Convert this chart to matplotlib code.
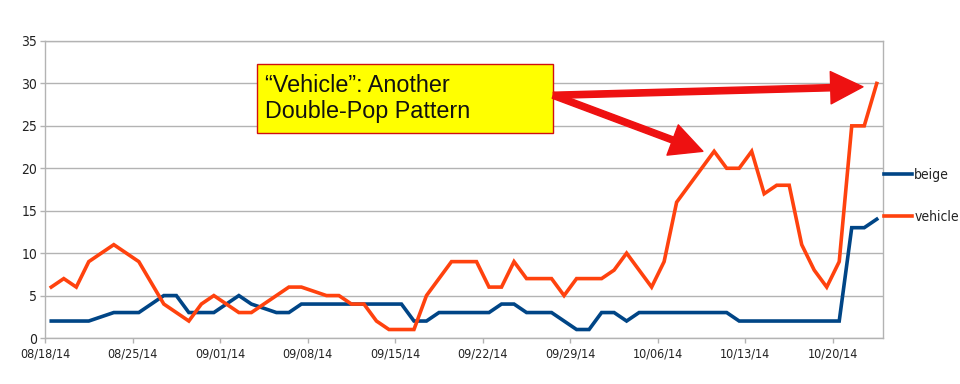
import matplotlib
matplotlib.use("Agg")
import matplotlib.pyplot as plt
import matplotlib.dates as mdates
from matplotlib.patches import Rectangle
import pandas as pd

# daily counts, 08/18/14 .. 10/23/14
start_date = "2014-08-18"
beige = [2, 2, 2, 2, 2.5, 3, 3, 3, 4, 5, 5, 3, 3, 3, 4, 5, 4, 3.5, 3, 3,
         4, 4, 4, 4, 4, 4, 4, 4, 4, 2, 2, 3, 3, 3, 3, 3, 4, 4, 3, 3,
         3, 2, 1, 1, 3, 3, 2, 3, 3, 3, 3, 3, 3, 3, 3, 2, 2, 2, 2, 2,
         2, 2, 2, 2, 13, 13, 14]
vehicle = [6, 7, 6, 9, 10, 11, 10, 9, 6.5, 4, 3, 2, 4, 5, 4, 3, 3, 4, 5, 6,
           6, 5.5, 5, 5, 4, 4, 2, 1, 1, 1, 5, 7, 9, 9, 9, 6, 6, 9, 7, 7,
           7, 5, 7, 7, 7, 8, 10, 8, 6, 9, 16, 18, 20, 22, 20, 20, 22, 17, 18, 18,
           11, 8, 6, 9, 25, 25, 30]
series_names = ["beige", "vehicle"]
series_colors = ["#004586", "#ff420e"]
note_text = "\u201cVehicle\u201d: Another\nDouble-Pop Pattern"

dates = pd.date_range(start_date, periods=len(beige), freq="D")
x = mdates.date2num(dates) + 0.5
x0 = mdates.date2num(dates[0])

narrow = ["DejaVu Sans"]
grey = "#b3b3b3"

fig = plt.figure(figsize=(9.6, 3.84), dpi=100)
ax = fig.add_axes([45 / 960, 46 / 384, 838 / 960, 297 / 384])

for vals, name, col in zip([beige, vehicle], series_names, series_colors):
    ax.plot(x, vals, color=col, lw=2.6, label=name, solid_joinstyle="miter")

ax.set_xlim(x0, x0 + len(beige))
ax.set_ylim(0, 35)
ax.set_yticks(range(0, 36, 5))
ax.xaxis.set_major_locator(mdates.WeekdayLocator(byweekday=mdates.MO))
ax.xaxis.set_major_formatter(mdates.DateFormatter("%m/%d/%y"))
ax.grid(axis="y", color=grey, lw=1)
ax.set_axisbelow(True)
for s in ax.spines.values():
    s.set_color(grey)
    s.set_linewidth(1)
ax.tick_params(axis="both", length=3.6, width=1, color=grey,
               labelcolor="#222222")
ax.tick_params(axis="x", pad=3, labelsize=9)
ax.tick_params(axis="y", pad=2, labelsize=10)
for lab in ax.get_xticklabels() + ax.get_yticklabels():
    lab.set_family(narrow)
    lab.set_fontstretch("condensed")

leg = ax.legend(loc="center left", bbox_to_anchor=(1.0, 0.478), frameon=False,
                borderaxespad=0, borderpad=0.1, handlelength=2.0,
                handletextpad=0.15, labelspacing=2.0,
                prop={"family": narrow, "size": 10, "stretch": "condensed"})
for t in leg.get_texts():
    t.set_color("#222222")

# callout box
ax.add_patch(Rectangle((0.253, 0.690), 0.353, 0.233, transform=ax.transAxes,
                       facecolor="#ffff00", edgecolor="#d01010", lw=1,
                       zorder=5, clip_on=False))
ax.text(0.2625, 0.806, note_text, transform=ax.transAxes, ha="left",
        va="center", fontsize=16.8, family=["Liberation Sans", "DejaVu Sans"],
        color="#111111", linespacing=1.15, zorder=6)

arrow_start = (x0 + 40.64, 28.6)
for tip in [(x0 + 65.4, 29.6), (x0 + 52.6, 22.0)]:
    ax.annotate("", xy=tip, xytext=arrow_start, zorder=7,
                arrowprops=dict(arrowstyle="simple,head_length=1.55,head_width=1.55,tail_width=0.3",
                                color="#ee1111", mutation_scale=15,
                                shrinkA=0, shrinkB=0))

fig.savefig("out.png", dpi=100)
